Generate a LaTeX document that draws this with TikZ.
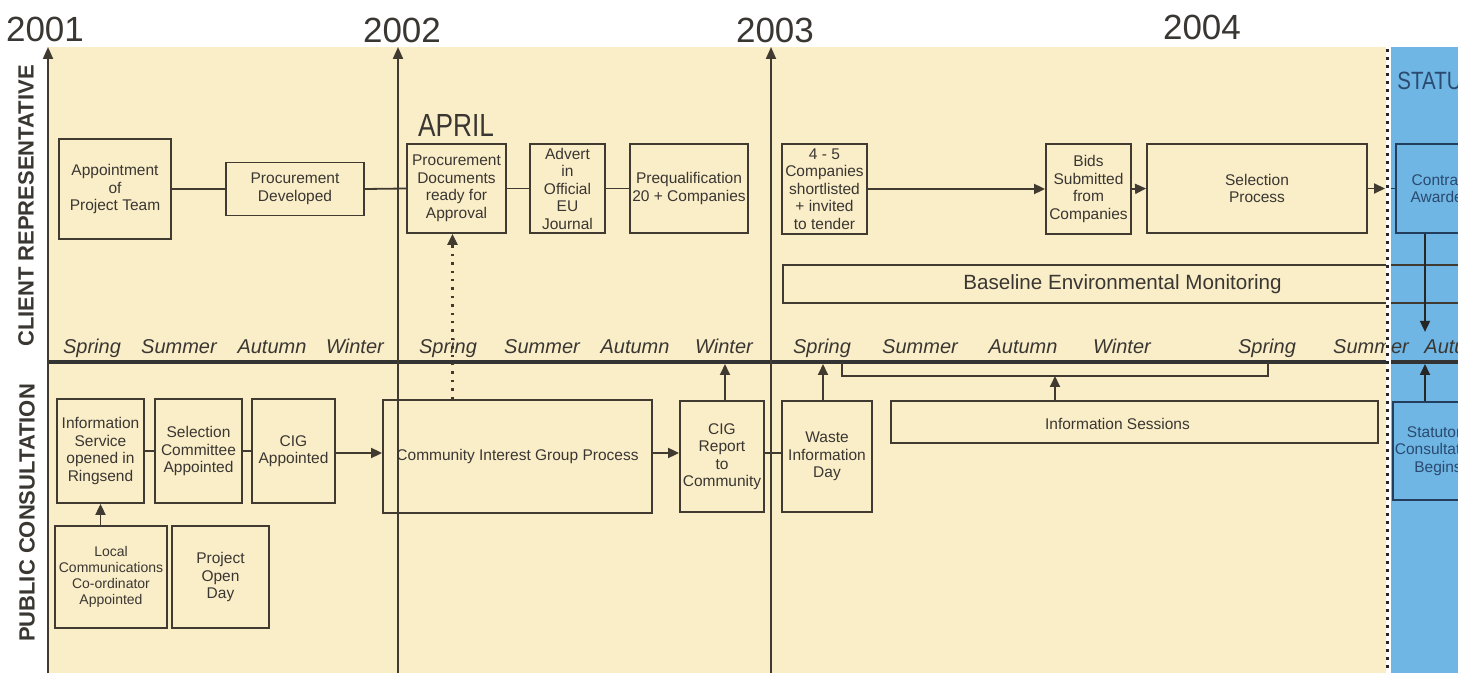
\documentclass[tikz,border=0pt]{standalone}
\usepackage{fontspec}
\setmainfont{Liberation Sans}
\newfontfamily\condfont[FakeStretch=0.82]{Liberation Sans}
\usetikzlibrary{arrows.meta}
\definecolor{cream}{HTML}{FAEEC8}
\definecolor{sky}{HTML}{6FB6E4}
\definecolor{boxc}{HTML}{403A30}
\definecolor{txt}{HTML}{3A3632}
\definecolor{navy}{HTML}{233E5C}
\definecolor{navytxt}{HTML}{2A4A70}
\begin{document}
\begin{tikzpicture}[x=0.5pt,y=-0.5pt,
  box/.style={draw=boxc, line width=0.9pt, align=center, inner sep=0pt, text=txt, font=\fontsize{7.75}{8.75}\selectfont},
  bluebox/.style={box, draw=navy, text=navytxt},
  conn/.style={draw=boxc, line width=0.9pt},
  arr/.style={conn, -{Triangle[length=5.5pt,width=5pt]}},
  axis/.style={draw=boxc, line width=1pt, -{Triangle[length=6pt,width=5pt]}},
  season/.style={font=\fontsize{10}{12}\selectfont\itshape, text=txt, anchor=base},
  year/.style={font=\fontsize{17.5}{20}\selectfont, text=txt, anchor=base},
  lane/.style={font=\fontsize{11}{13}\selectfont\bfseries, text=txt, rotate=90},
]
\useasboundingbox (0,0) rectangle (1458,673);
\clip (0,0) rectangle (1458,673);
% backgrounds
\fill[cream] (48,47) rectangle (1388,673);
\fill[sky] (1388,47) rectangle (1458,673);
% timeline
\draw[line width=2pt, draw=black!80] (48,362) -- (1458,362);
\coordinate (tl) at (0,364);
% years and axes
\node[year] (y2001) at (45,42) {2001};
\node[year] (y2002) at (402,43) {2002};
\node[year] (y2003) at (775,43) {2003};
\node[year] (y2004) at (1202,40) {2004};
\draw[axis] (48,673) -- (48,47);
\draw[axis] (398,673) -- (398,47);
\draw[axis] (771,673) -- (771,47);
% lane labels
\node[lane] (lane1) at (26,206) {CLIENT REPRESENTATIVE};
\node[lane] (lane2) at (27,513) {PUBLIC CONSULTATION};
\node[font=\condfont\fontsize{12.5}{15}\selectfont, text=navytxt, anchor=base west, inner sep=0pt] (stat) at (1397,90) {STATUTORY};
\node[font=\condfont\fontsize{16}{18}\selectfont, text=txt, anchor=base] (april) at (456,137) {APRIL};
% seasons
\foreach \x/\s [count=\i] in {92/Spring,179/Summer,272/Autumn,355/Winter,448/Spring,542/Summer,635/Autumn,724/Winter,822/Spring,920/Summer,1023/Autumn,1122/Winter,1267/Spring,1371/Summer}
  \node[season] (season\i) at (\x,354) {\s};
\node[season, anchor=base west, inner sep=0pt] (season15) at (1424,354) {Autumn};
% client representative row
\node[box, minimum width=56pt, minimum height=50pt] (appt) at (115,189) {Appointment\\of\\Project Team};
\node[box, minimum width=69pt, minimum height=26.5pt] (procdev) at (295,189) {Procurement\\Developed};
\node[box, minimum width=49.5pt, minimum height=44.5pt] (procdocs) at (456.5,188.5) {Procurement\\Documents\\ready for\\Approval};
\node[box, minimum width=37.5pt, minimum height=44.5pt] (advert) at (567.5,188.5) {Advert\\in\\Official\\EU\\Journal};
\node[box, minimum width=59pt, minimum height=44.5pt] (prequal) at (689,188.5) {Prequalification\\20 + Companies};
\node[box, minimum width=42.5pt, minimum height=45pt] (short) at (824.5,189) {4 - 5\\Companies\\shortlisted\\+ invited\\to tender};
\node[box, minimum width=42.5pt, minimum height=45pt] (bids) at (1088.5,189) {Bids\\Submitted\\from\\Companies};
\node[box, minimum width=110pt, minimum height=44.5pt] (select) at (1257,188.5) {Selection\\Process};
\node[bluebox, minimum width=45pt, minimum height=44.5pt] (contract) at (1441,188.5) {Contract\\Awarded};
\node[box, minimum width=339.5pt, minimum height=19pt, font=\fontsize{10.3}{12}\selectfont] (baseline) at (1122.5,284) {Baseline Environmental Monitoring};
% public consultation row
\node[box, minimum width=43.5pt, minimum height=52pt] (infoserv) at (100.5,451) {Information\\Service\\opened in\\Ringsend};
\node[box, minimum width=43.5pt, minimum height=52pt] (selcomm) at (198.5,451) {Selection\\Committee\\Appointed};
\node[box, minimum width=41.5pt, minimum height=52pt] (cigappt) at (293.5,451) {CIG\\Appointed};
\node[box, minimum width=134.5pt, minimum height=56.5pt] (cigproc) at (517.5,456.5) {Community Interest Group Process};
\node[box, minimum width=42pt, minimum height=55.5pt] (cigrep) at (722,456.5) {CIG\\Report\\to\\Community};
\node[box, minimum width=45pt, minimum height=55.5pt] (waste) at (827,456.5) {Waste\\Information\\Day};
\node[box, minimum width=243.5pt, minimum height=21pt,
  label={[xshift=-8.5pt, yshift=-1pt, font=\fontsize{7.75}{8.75}\selectfont, text=txt]center:Information Sessions}] (infosess) at (1134.5,422) {};
\node[bluebox, minimum width=45pt, minimum height=49pt] (statutory) at (1438,451) {Statutory\\Consultation\\Begins};
\node[box, minimum width=56pt, minimum height=51pt, font=\fontsize{7}{8}\selectfont] (localcomm) at (111,577) {Local\\Communications\\Co-ordinator\\Appointed};
\node[box, minimum width=48.5pt, minimum height=51pt] (openday) at (220.5,577) {Project\\Open\\Day};
% connectors top
\draw[conn] (appt.east) -- (procdev.west);
\draw[conn] (procdev.east) -- (procdocs.west);
\draw[conn] (procdocs.east) -- (advert.west);
\draw[conn] (advert.east) -- (prequal.west);
\draw[arr] (short.east) -- (bids.west);
\draw[arr] (bids.east) -- (select.west);
\coordinate (selEnd) at (1385,188.5);
\coordinate (conStart) at (1389,188.5);
\draw[arr] (select.east) -- (selEnd);
\draw[conn, draw=navy] (conStart) -- (contract.west);
\draw[arr, draw=black!85] ([xshift=-8pt]contract.south) -- ++(0,98);
\draw[conn, line width=1.2pt, dash pattern=on 1.2pt off 3pt, -{Triangle[length=5.5pt,width=5pt]}] ([xshift=-2pt]procdocs.south |- cigproc.north) -- ([xshift=-2pt]procdocs.south);
% connectors bottom
\draw[arr] (localcomm.north -| infoserv.south) -- (infoserv.south);
\draw[conn] (infoserv.east) -- (selcomm.west);
\draw[conn] (selcomm.east) -- (cigappt.west);
\draw[arr] ([yshift=-1pt]cigappt.east) -- ([yshift=-1pt]cigappt.east -| cigproc.west);
\draw[arr] ([yshift=-1pt]cigproc.east |- cigappt.east) -- ([yshift=-1pt]cigrep.west |- cigappt.east);
\draw[conn] ([yshift=-1pt]cigrep.east |- cigappt.east) -- ([yshift=-1pt]waste.west |- cigappt.east);
\draw[arr] ([xshift=1.5pt]cigrep.north) -- ([xshift=1.5pt]cigrep.north |- tl);
\draw[arr] ([xshift=-2pt]waste.north) -- ([xshift=-2pt]waste.north |- tl);
\coordinate (brL) at (842,376);
\coordinate (brR) at (1268,376);
\draw[conn] (842,362) -- (brL) -- (brR) -- (1268,362);
\draw[arr] ([xshift=-39.75pt]infosess.north) -- ([xshift=-39.75pt]infosess.north |- brL);
\draw[arr, draw=black!85] ([xshift=-6.5pt]statutory.north) -- ([xshift=-6.5pt]statutory.north |- tl);
% dotted boundary
\draw[white, line width=2.4pt] (1388.5,47) -- (1388.5,673);
\draw[black!85, line width=1.6pt, dash pattern=on 1.6pt off 2.4pt] (1387.5,49) -- (1387.5,673);
\end{tikzpicture}
\end{document}
